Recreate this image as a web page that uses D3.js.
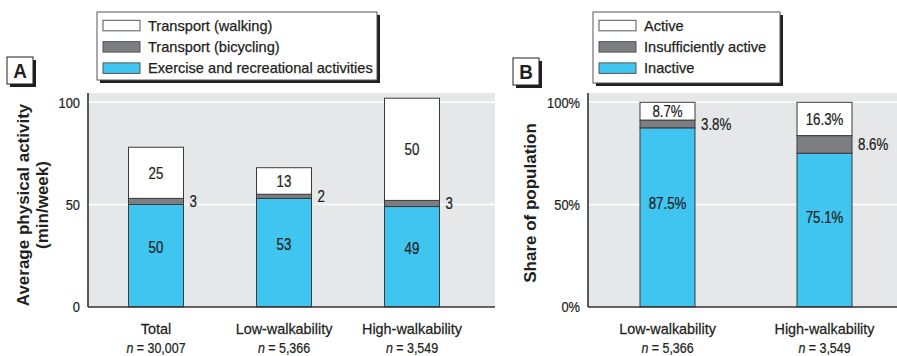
<!DOCTYPE html>
<html>
<head>
<meta charset="utf-8">
<script src="https://cdn.jsdelivr.net/npm/d3@7"></script>
<style>
  html, body { margin: 0; padding: 0; background: #fff; }
  svg { display: block; }
  text { font-family: "Liberation Sans", Arial, sans-serif; fill: #231f20; }
  text.reg { stroke: #231f20; stroke-width: 0.25px; }
</style>
</head>
<body>
<svg id="chart" width="897" height="356"></svg>
<script>
// Panel A: average physical activity (min/week) by neighbourhood group
const groupsA = ["Total", "Low-walkability", "High-walkability"];
const sampleA = ["30,007", "5,366", "3,549"];
const exerciseA = [50, 53, 49];
const bicyclingA = [3, 2, 3];
const walkingA = [25, 13, 50];
const legendA = ["Transport (walking)", "Transport (bicycling)", "Exercise and recreational activities"];

// Panel B: share of population by activity level (%)
const groupsB = ["Low-walkability", "High-walkability"];
const sampleB = ["5,366", "3,549"];
const inactiveB = [87.5, 75.1];
const insufficientB = [3.8, 8.6];
const activeB = [8.7, 16.3];
const legendB = ["Active", "Insufficiently active", "Inactive"];

const ticksA = [0, 50, 100];
const ticksB = [0, 50, 100];

const colors = { top: "#ffffff", mid: "#7d7e81", base: "#40c5f1" };
const legendColors = [colors.top, colors.mid, colors.base];

// horizontal squeeze for words and for figures (figures are set narrower)
const SX_WORD = 0.96, SX_NUM = 0.83;

const svg = d3.select("#chart");
const y = d3.scaleLinear().domain([0, 100]).range([306.7, 102.3]);
const plotTop = 93, plotBottom = 307;

function label(g, x, yy, str, o = {}) {
  const sx = o.sx || SX_WORD;
  const t = g.append("text")
    .attr("class", o.weight === "bold" ? "bold" : "reg")
    .attr("transform", `translate(${x},${yy})${o.rotate ? " rotate(" + o.rotate + ")" : ""} scale(${sx},1)`)
    .attr("text-anchor", o.anchor || "start")
    .attr("font-size", o.size || 15)
    .attr("font-weight", o.weight || "normal");
  if (o.dy) t.attr("dy", o.dy);
  if (str !== null) t.text(str);
  return t;
}

function panel(opts) {
  const g = svg.append("g");
  // background + gridlines
  g.append("rect").attr("x", opts.x0).attr("y", plotTop)
    .attr("width", opts.x1 - opts.x0).attr("height", plotBottom - plotTop)
    .attr("fill", "#e6e7e8");
  g.selectAll("line.grid").data(opts.ticks.filter(d => d > 0)).join("line")
    .attr("x1", opts.x0).attr("x2", opts.x1)
    .attr("y1", d => y(d)).attr("y2", d => y(d))
    .attr("stroke", "#fff").attr("stroke-width", 1.5);
  // tick labels
  opts.ticks.forEach(d => label(g, opts.x0 - 8, y(d), opts.fmt(d), { anchor: "end", dy: "0.36em", size: 15.5, sx: SX_NUM }));

  const x = d3.scaleBand().domain(opts.groups).range(opts.band).paddingInner(opts.pad).paddingOuter(opts.pad / 2);
  const bw = 55;
  const cx = d => x(d) + x.bandwidth() / 2;

  opts.groups.forEach((grp, i) => {
    const base = opts.base[i], mid = opts.mid[i], top = opts.top[i];
    const segs = [
      { y0: 0, y1: base, c: colors.base },
      { y0: base, y1: base + mid, c: colors.mid },
      { y0: base + mid, y1: base + mid + top, c: colors.top }
    ];
    g.selectAll(null).data(segs).join("rect")
      .attr("x", cx(grp) - bw / 2).attr("width", bw)
      .attr("y", d => y(d.y1)).attr("height", d => y(d.y0) - y(d.y1))
      .attr("fill", d => d.c).attr("stroke", "#3a3a3c").attr("stroke-width", 1);

    // value labels
    const vl = { dy: "0.36em", size: 16, sx: SX_NUM };
    label(g, cx(grp), y(base * 0.58), opts.fmtv(base), { ...vl, anchor: "middle" });
    label(g, cx(grp) + bw / 2 + 6, y(base + mid / 2), opts.fmtv(mid), vl);
    label(g, cx(grp), y(base + mid + top / 2), opts.fmtv(top), { ...vl, anchor: "middle" });

    // category labels
    label(g, cx(grp), 334, grp, { anchor: "middle", size: 15 });
    const n = label(g, cx(grp), 353, null, { anchor: "middle", size: 15, sx: SX_NUM });
    n.append("tspan").attr("font-style", "italic").text("n");
    n.append("tspan").text(" = " + opts.n[i]);
  });

  // axes
  g.append("line").attr("x1", opts.x0).attr("x2", opts.x0).attr("y1", plotTop).attr("y2", plotBottom)
    .attr("stroke", "#333").attr("stroke-width", 1.6);
  g.append("line").attr("x1", opts.x0).attr("x2", opts.x1).attr("y1", plotBottom).attr("y2", plotBottom)
    .attr("stroke", "#333").attr("stroke-width", 1.6);

  // axis title
  opts.title.forEach((line, k) => {
    label(g, opts.titleX + k * 18.5, opts.titleY, line, { anchor: "middle", rotate: -90, weight: "bold", size: 17, sx: 1 });
  });

  // panel letter
  const lb = opts.letterBox;
  g.append("rect").attr("x", lb[0] + 3).attr("y", lb[1] + 3).attr("width", 26).attr("height", 27).attr("fill", "#231f20");
  g.append("rect").attr("x", lb[0]).attr("y", lb[1]).attr("width", 26).attr("height", 27)
    .attr("fill", "#fff").attr("stroke", "#231f20").attr("stroke-width", 1);
  label(g, lb[0] + 13, lb[1] + 21, opts.letter, { anchor: "middle", weight: "bold", size: 21, sx: 0.9 });

  // legend
  const L = opts.legend;
  g.append("rect").attr("x", L.x + 3).attr("y", L.y + 3).attr("width", L.w).attr("height", L.h).attr("fill", "#231f20");
  g.append("rect").attr("x", L.x).attr("y", L.y).attr("width", L.w).attr("height", L.h)
    .attr("fill", "#fff").attr("stroke", "#555").attr("stroke-width", 1);
  opts.legendLabels.forEach((lab, k) => {
    const cy = L.y + 13.5 + k * 21.3;
    g.append("rect").attr("x", L.x + 6).attr("y", cy - 5.2).attr("width", 37).attr("height", 10.5)
      .attr("fill", legendColors[k]).attr("stroke", "#555").attr("stroke-width", 1);
    label(g, L.x + 51, cy, lab, { dy: "0.36em", size: 14.6, sx: 1 });
  });
}

panel({
  x0: 88, x1: 495, band: [92, 476], pad: 0.57, groups: groupsA, n: sampleA,
  base: exerciseA, mid: bicyclingA, top: walkingA, ticks: ticksA,
  fmt: d => String(d), fmtv: d => String(d),
  title: ["Average physical activity", "(min/week)"], titleX: 29, titleY: 205,
  letter: "A", letterBox: [7, 57],
  legend: { x: 97, y: 12, w: 280, h: 68 }, legendLabels: legendA
});

panel({
  x0: 588, x1: 897, band: [589, 903], pad: 0.65, groups: groupsB, n: sampleB,
  base: inactiveB, mid: insufficientB, top: activeB, ticks: ticksB,
  fmt: d => d + "%", fmtv: d => d.toFixed(1) + "%",
  title: ["Share of population"], titleX: 535.5, titleY: 203,
  letter: "B", letterBox: [513, 58],
  legend: { x: 593, y: 12, w: 187, h: 71 }, legendLabels: legendB
});
</script>
</body>
</html>
